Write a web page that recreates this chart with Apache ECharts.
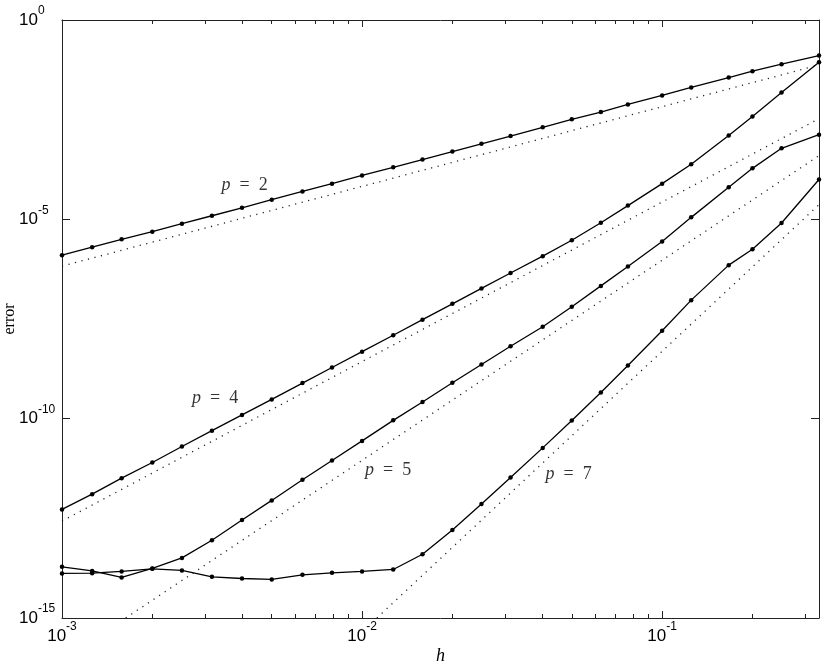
<!DOCTYPE html>
<html>
<head>
<meta charset="utf-8">
<script src="https://cdn.jsdelivr.net/npm/echarts@6/dist/echarts.min.js"></script>
<style>
  html, body { margin: 0; padding: 0; background: #fff; }
  #main { width: 830px; height: 668px; }
</style>
</head>
<body>
<div id="main"></div>
<script>
// step sizes h (x axis)
var h = [0.001, 0.00126, 0.00158, 0.002, 0.00251, 0.00316, 0.00398, 0.005, 0.00633, 0.00794,
         0.01, 0.0127, 0.0159, 0.02, 0.025, 0.03125, 0.04, 0.05, 0.0625, 0.0769,
         0.1, 0.125, 0.1667, 0.2, 0.25, 0.3333];

// measured errors, one list per order p
var errP2 = [1.26e-6, 2.0e-6, 3.16e-6, 4.9e-6, 7.8e-6, 1.23e-5, 1.95e-5, 3.1e-5, 5.0e-5, 7.85e-5,
             1.26e-4, 2.02e-4, 3.16e-4, 5.0e-4, 7.85e-4, 1.23e-3, 2.03e-3, 3.22e-3, 4.9e-3, 7.6e-3,
             1.28e-2, 2.03e-2, 3.6e-2, 5.2e-2, 7.8e-2, 0.128];
var errP4 = [5.3e-13, 1.28e-12, 3.22e-12, 7.94e-12, 2.0e-11, 5.0e-11, 1.24e-10, 3.04e-10, 7.8e-10, 1.92e-9,
             4.8e-9, 1.24e-8, 3.04e-8, 7.6e-8, 1.85e-7, 4.5e-7, 1.19e-6, 2.99e-6, 8.2e-6, 2.21e-5,
             7.85e-5, 2.4e-4, 1.26e-3, 3.82e-3, 1.52e-2, 8.76e-2];
var errP5 = [1.92e-14, 1.52e-14, 1.04e-14, 1.75e-14, 3.22e-14, 8.9e-14, 2.87e-13, 8.9e-13, 2.93e-12, 8.9e-12,
             2.77e-11, 9.07e-11, 2.62e-10, 7.94e-10, 2.28e-9, 6.57e-9, 2.02e-8, 6.42e-8, 2.14e-7, 6.57e-7,
             2.79e-6, 1.12e-5, 6.42e-5, 1.9e-4, 6.06e-4, 1.33e-3];
var errP7 = [1.31e-14, 1.33e-14, 1.47e-14, 1.71e-14, 1.56e-14, 1.08e-14, 9.8e-15, 9.3e-15, 1.21e-14, 1.36e-14,
             1.47e-14, 1.65e-14, 3.98e-14, 1.61e-13, 7.2e-13, 3.35e-12, 1.85e-11, 9.0e-11, 4.55e-10, 2.15e-9,
             1.61e-8, 9.4e-8, 7.1e-7, 1.78e-6, 8.1e-6, 1.0e-4];

// dotted reference slopes: end points [h, err]
var refP2 = [[0.001, 6.7e-7], [0.3333, 0.0745]];
var refP4 = [[0.001, 2.7e-13], [0.3333, 3.35e-3]];
var refP5 = [[0.00163, 1e-15], [0.3333, 3.97e-4]];
var refP7 = [[0.0112, 1e-15], [0.3333, 2.34e-5]];

// in-plot annotations
var noteText = ['p = 2', 'p = 4', 'p = 5', 'p = 7'];
var noteH = [0.00406, 0.00324, 0.01222, 0.0488];
var noteErr = [7.1e-5, 3.16e-10, 5.0e-12, 3.98e-12];

// ticks
var xMajor = [0.001, 0.01, 0.1];
var xMinor = [0.002, 0.003, 0.004, 0.005, 0.006, 0.007, 0.008, 0.009,
              0.02, 0.03, 0.04, 0.05, 0.06, 0.07, 0.08, 0.09, 0.2, 0.3];
var yMajor = [1e-15, 1e-10, 1e-5, 1];

var myChart = echarts.init(document.getElementById('main'));

function pairs(xs, ys) {
    return xs.map(function (x, i) { return [x, ys[i]]; });
}
function powLabel(v) {
    return '{b|10}{s|' + Math.round(Math.log10(v)) + '}';
}

var frame = { show: true, lineStyle: { color: '#222', width: 1 } };
var richPow = {
    b: { fontFamily: 'Liberation Sans', fontSize: 17, lineHeight: 30, color: '#000' },
    s: { fontFamily: 'Liberation Sans', fontSize: 12, lineHeight: 11, verticalAlign: 'top', color: '#000' }
};

function solid(name, data) {
    return {
        name: name, type: 'line', xAxisIndex: 0, yAxisIndex: 0,
        data: pairs(h, data),
        symbol: 'circle', symbolSize: 4.5,
        itemStyle: { color: '#000' },
        lineStyle: { color: '#000', width: 1.3 },
        z: 3
    };
}
function dotted(data) {
    return {
        type: 'line', xAxisIndex: 0, yAxisIndex: 0,
        data: data, symbol: 'none',
        lineStyle: { color: '#222', width: 1.3, type: [1.2, 5.5] },
        z: 2
    };
}

var option = {
    animation: false,
    backgroundColor: '#fff',
    grid: [
        { left: 62, right: 11, top: 20, bottom: 50, outerBoundsMode: 'none' },
        { left: 62, right: 11, top: 20, bottom: 50, outerBoundsMode: 'none' }
    ],
    xAxis: [
        {
            gridIndex: 0, type: 'log', min: 0.001, max: 0.3333, position: 'bottom',
            axisLine: frame,
            axisTick: { inside: true, length: 7, customValues: xMajor, lineStyle: { color: '#222' } },
            axisLabel: { customValues: xMajor, formatter: powLabel, rich: richPow, margin: 3 },
            splitLine: { show: false },
            name: 'h', nameLocation: 'middle', nameGap: 29, nameMoveOverlap: false,
            nameTextStyle: { fontFamily: 'Liberation Serif', fontStyle: 'italic', fontSize: 18, color: '#000' }
        },
        {
            gridIndex: 0, type: 'log', min: 0.001, max: 0.3333, position: 'top',
            axisLine: frame,
            axisTick: { inside: true, length: 7, customValues: xMajor, lineStyle: { color: '#222' } },
            axisLabel: { show: false },
            splitLine: { show: false }
        },
        {
            gridIndex: 1, type: 'log', min: 0.001, max: 0.3333, position: 'bottom',
            axisLine: { show: false },
            axisTick: { inside: true, length: 4, customValues: xMinor, lineStyle: { color: '#222' } },
            axisLabel: { show: false },
            splitLine: { show: false }
        },
        {
            gridIndex: 1, type: 'log', min: 0.001, max: 0.3333, position: 'top',
            axisLine: { show: false },
            axisTick: { inside: true, length: 4, customValues: xMinor, lineStyle: { color: '#222' } },
            axisLabel: { show: false },
            splitLine: { show: false }
        }
    ],
    yAxis: [
        {
            gridIndex: 0, type: 'log', min: 1e-15, max: 1, position: 'left',
            axisLine: frame,
            axisTick: { inside: true, length: 8, customValues: yMajor, lineStyle: { color: '#222' } },
            axisLabel: { customValues: yMajor, formatter: powLabel, rich: richPow, align: 'left', margin: 43 },
            splitLine: { show: false },
            name: 'error', nameLocation: 'middle', nameGap: 44, nameMoveOverlap: false,
            nameTextStyle: { fontFamily: 'Liberation Serif', fontSize: 16, color: '#000' }
        },
        {
            gridIndex: 0, type: 'log', min: 1e-15, max: 1, position: 'right',
            axisLine: frame,
            axisTick: { inside: true, length: 8, customValues: yMajor, lineStyle: { color: '#222' } },
            axisLabel: { show: false },
            splitLine: { show: false }
        },
        {
            gridIndex: 1, type: 'log', min: 1e-15, max: 1, show: false
        }
    ],
    series: [
        dotted(refP2), dotted(refP4), dotted(refP5), dotted(refP7),
        solid('p = 2', errP2), solid('p = 4', errP4), solid('p = 5', errP5), solid('p = 7', errP7),
        {
            type: 'scatter', xAxisIndex: 0, yAxisIndex: 0,
            data: noteH.map(function (x, i) { return [x, noteErr[i], noteText[i]]; }),
            symbolSize: 0,
            label: {
                show: true, position: 'inside',
                formatter: function (p) {
                    var parts = p.data[2].split(' = ');
                    return '{i|' + parts[0] + '}{r|  =  ' + parts[1] + '}';
                },
                rich: {
                    i: { fontFamily: 'Liberation Serif', fontStyle: 'italic', fontSize: 18, color: '#000' },
                    r: { fontFamily: 'Liberation Serif', fontSize: 18, color: '#000' }
                }
            },
            z: 4
        }
    ]
};
myChart.setOption(option);
</script>
</body>
</html>
